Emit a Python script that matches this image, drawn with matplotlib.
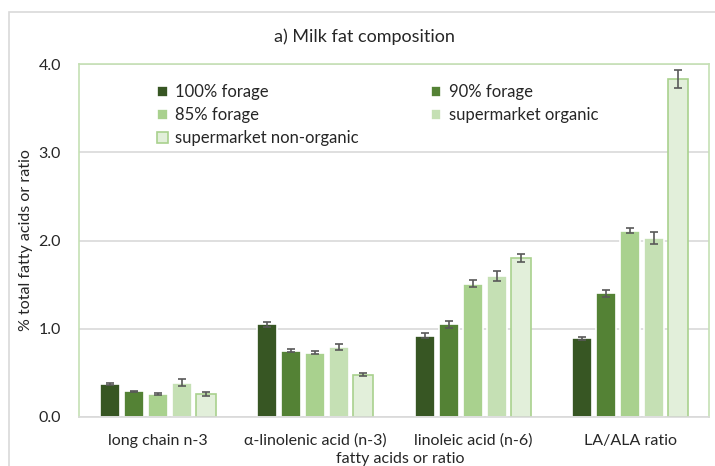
import matplotlib.pyplot as plt
from matplotlib.patches import Rectangle
import numpy as np

plt.rcParams['font.family'] = ['Lato', 'DejaVu Sans']

categories = ['long chain n-3', 'α-linolenic acid (n-3)', 'linoleic acid (n-6)', 'LA/ALA ratio']
series = ['100% forage', '90% forage', '85% forage', 'supermarket organic', 'supermarket non-organic']

forage100 = [0.37, 1.05, 0.92, 0.89]
forage90 = [0.29, 0.75, 1.05, 1.40]
forage85 = [0.26, 0.73, 1.51, 2.11]
organic = [0.39, 0.79, 1.60, 2.03]
nonorganic = [0.26, 0.48, 1.80, 3.83]

err100 = [0.01, 0.03, 0.03, 0.02]
err90 = [0.01, 0.015, 0.04, 0.035]
err85 = [0.01, 0.02, 0.04, 0.03]
err_org = [0.04, 0.035, 0.06, 0.065]
err_non = [0.025, 0.02, 0.045, 0.1]

values = [forage100, forage90, forage85, organic, nonorganic]
errors = [err100, err90, err85, err_org, err_non]
fills = ['#375623', '#548235', '#a9d18e', '#c5e0b4', '#e2efda']
edges = ['white', 'white', 'white', 'white', '#a9d18e']
txt = '#262626'

fig = plt.figure(figsize=(7.15, 4.66), dpi=100)
# outer chart border
fig.patches.append(Rectangle((9 / 715, -0.1), 1.2, 1 - 12 / 466 + 0.1, transform=fig.transFigure,
                             fill=False, edgecolor='#d9d9d9', linewidth=1.2))

ax = fig.add_axes([79 / 715, 49 / 466, 630 / 715, 353 / 466])
x = np.arange(len(categories))
pitch = 0.152
handles = []
for i, (vals, errs) in enumerate(zip(values, errors)):
    b = ax.bar(x + (i - 2) * pitch, vals, width=0.127, color=fills[i], edgecolor=edges[i],
               linewidth=1.2, label=series[i], zorder=2,
               yerr=errs, error_kw=dict(ecolor='#595959', elinewidth=1.2, capsize=3, capthick=1.2, zorder=3))
    handles.append(b)

ax.set_xlim(-0.5, 3.5)
ax.set_ylim(0, 4.0)
ax.set_yticks([0, 1, 2, 3, 4])
ax.set_yticklabels(['0.0', '1.0', '2.0', '3.0', '4.0'])
ax.yaxis.grid(True, color='#d9d9d9', linewidth=1.2, zorder=0)
ax.set_axisbelow(True)
ax.tick_params(length=0, labelsize=11.5, colors=txt)
ax.tick_params(axis='y', pad=13)
ax.tick_params(axis='x', pad=12)
ax.set_xticks(x)
ax.set_xticklabels(categories)
for s in ['top', 'right', 'left']:
    ax.spines[s].set_color('#c5e0b4')
    ax.spines[s].set_linewidth(1.2)
ax.spines['bottom'].set_color('#d9d9d9')
ax.spines['bottom'].set_linewidth(1.2)

ax.set_ylabel('% total fatty acids or ratio', fontsize=11.5, color=txt, labelpad=4)
fig.text(400 / 715, 1 - 459 / 466, 'fatty acids or ratio', ha='center', va='center',
         fontsize=11.5, color=txt)
fig.text(364 / 715, 1 - 37 / 466, 'a) Milk fat composition', ha='center', va='center',
         fontsize=13, color=txt)

order = [0, 2, 4, 1, 3]
ax.legend([handles[k] for k in order], [series[k] for k in order], ncol=2, loc='upper left',
          bbox_to_anchor=(0.1, 0.985), frameon=False, fontsize=12, handlelength=0.65,
          handleheight=0.65, handletextpad=0.45, columnspacing=4.3, labelspacing=0.42,
          labelcolor=txt)

fig.savefig('out.png', dpi=100)
